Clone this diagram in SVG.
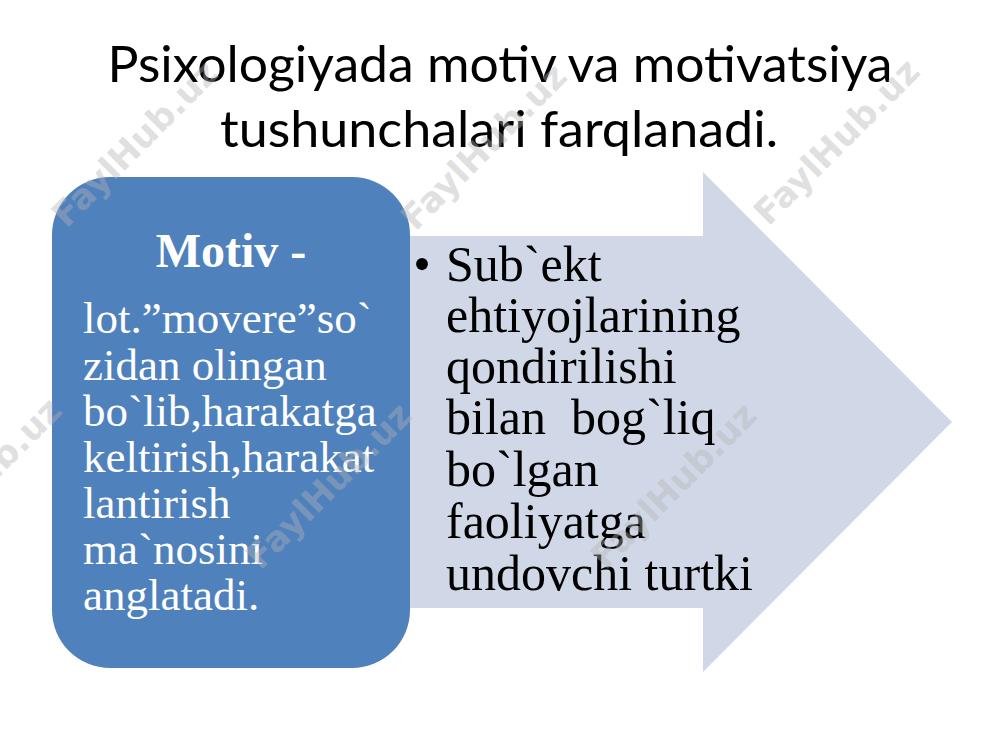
<svg xmlns="http://www.w3.org/2000/svg" width="1000" height="750" viewBox="0 0 1000 750">
  <style>
    .title { font-family: Lato, "Open Sans", "Liberation Sans", sans-serif; font-size: 50px; fill: #000; text-anchor: middle; }
    .serif { font-family: "Liberation Serif", "Times New Roman", serif; }
    .head { font-size: 48px; font-weight: bold; fill: #fff; text-anchor: middle; }
    .lt { font-size: 45px; fill: #fff; }
    .rt { font-size: 50px; fill: #000; }
    .wm { font-family: "DejaVu Sans", "Liberation Sans", sans-serif; font-weight: bold; font-size: 35px; fill: #b4b4b4; fill-opacity: 0.42; text-anchor: middle; }
  </style>
  <rect width="1000" height="750" fill="#fff"/>

  <g id="title">
    <text class="title" x="500" y="82" textLength="785" lengthAdjust="spacingAndGlyphs">Psixologiyada motiv va motivatsiya</text>
    <text class="title" x="499" y="147" textLength="558" lengthAdjust="spacingAndGlyphs">tushunchalari farqlanadi.</text>
  </g>

  <g id="arrow">
    <path d="M400,236 H703 V172 L952,422 L703,672 V608 H400 Z" fill="#d0d8e8"/>
    <g class="serif rt">
      <text x="422" y="281" text-anchor="middle">•</text>
      <text x="446" y="281">Sub`ekt</text>
      <text x="446" y="332">ehtiyojlarining</text>
      <text x="446" y="383">qondirilishi</text>
      <text x="446" y="434" xml:space="preserve">bilan  bog`liq</text>
      <text x="446" y="486">bo`lgan</text>
      <text x="446" y="538">faoliyatga</text>
      <text x="446" y="590">undovchi turtki</text>
    </g>
  </g>

  <g id="motiv">
    <rect x="52" y="177" width="358" height="491" rx="58" ry="58" fill="#4f81bd"/>
    <text class="serif head" x="231" y="267">Motiv -</text>
    <g class="serif lt">
      <text x="83" y="333">lot.”movere”so`</text>
      <text x="83" y="380">zidan olingan</text>
      <text x="83" y="426">bo`lib,harakatga</text>
      <text x="83" y="472">keltirish,harakat</text>
      <text x="83" y="518">lantirish</text>
      <text x="83" y="564">ma`nosini</text>
      <text x="83" y="610">anglatadi.</text>
    </g>
  </g>

  <g id="watermarks">
    <text class="wm" transform="translate(134,143) rotate(-45)" y="13">FaylHub.uz</text>
    <text class="wm" transform="translate(483,146) rotate(-45)" y="13">FaylHub.uz</text>
    <text class="wm" transform="translate(836,141) rotate(-45)" y="13">FaylHub.uz</text>
    <text class="wm" transform="translate(-22,480) rotate(-45)" y="13">FaylHub.uz</text>
    <text class="wm" transform="translate(328,485) rotate(-45)" y="13">FaylHub.uz</text>
    <text class="wm" transform="translate(673,485) rotate(-45)" y="13">FaylHub.uz</text>
  </g>
</svg>
